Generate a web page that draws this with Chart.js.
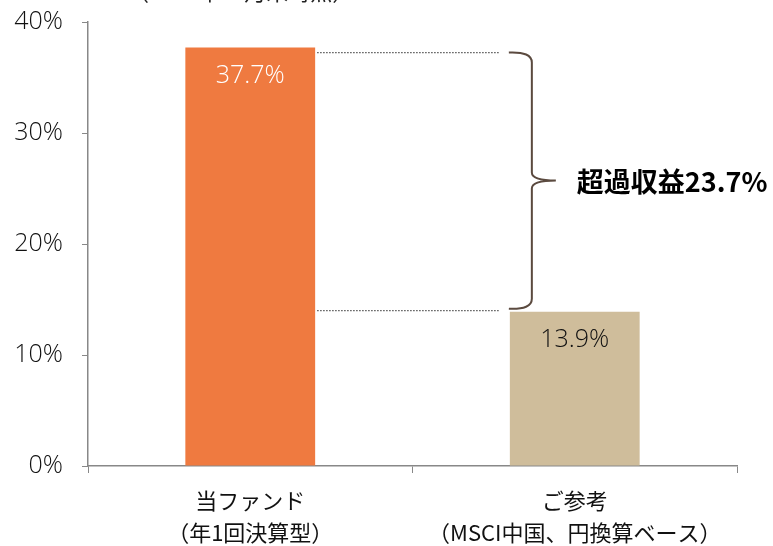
<!DOCTYPE html>
<html><head><meta charset="utf-8">
<script src="https://cdn.jsdelivr.net/npm/chart.js@4/dist/chart.umd.min.js"></script>
<style>html,body{margin:0;padding:0;background:#fff}#wrap{width:773px;height:546px}</style>
</head><body><div id="wrap"><canvas id="c" width="773" height="546"></canvas></div>
<script>
const categories = [["当ファンド","（年1回決算型）"],["ご参考","（MSCI中国、円換算ベース）"]];
const values = [37.7, 13.9];
const valueLabels = ["37.7%", "13.9%"];
const yTicks = [0, 10, 20, 30, 40];
const excessLabel = "超過収益23.7%";
const noteText = "（2019年11月末時点）";
const barColors = ["#EF7A40", "#CFBD9B"];
const labelColors = ["#ffffff", "#111111"];
const FONT = "'Open Sans','Noto Sans CJK JP',sans-serif";
const JFONT = "'Noto Sans CJK JP','Open Sans',sans-serif";

const annot = {
  id: 'annot',
  afterDatasetsDraw(chart) {
    const ctx = chart.ctx, y = chart.scales.y;
    const meta = chart.getDatasetMeta(0);
    ctx.save();
    ctx.font = "300 25px " + FONT;
    ctx.textAlign = "center"; ctx.textBaseline = "middle";
    meta.data.forEach((b, i) => {
      ctx.fillStyle = labelColors[i];
      ctx.fillText(valueLabels[i], b.x, b.y + 28);
    });
    const b0 = meta.data[0], b1 = meta.data[1];
    const yTop = y.getPixelForValue(values[0]) + 5;
    const yBot = y.getPixelForValue(values[1]) - 1;
    const x0 = b0.x + b0.width / 2 + 2;
    const xEnd = b1.x - b1.width / 2 - 10;
    ctx.strokeStyle = "#555"; ctx.lineWidth = 1.3; ctx.setLineDash([1.5, 1.5]);
    ctx.beginPath(); ctx.moveTo(x0, yTop); ctx.lineTo(xEnd, yTop); ctx.stroke();
    ctx.beginPath(); ctx.moveTo(x0, yBot); ctx.lineTo(xEnd, yBot); ctx.stroke();
    ctx.setLineDash([]);
    const bx = xEnd + 9, xs = bx + 23, top = yTop, bot = yBot - 2, mid = (top + bot) / 2;
    ctx.strokeStyle = "#5B4A3F"; ctx.lineWidth = 2;
    ctx.beginPath();
    ctx.moveTo(bx, top);
    ctx.quadraticCurveTo(xs, top - 1, xs, top + 10);
    ctx.lineTo(xs, mid - 8);
    ctx.quadraticCurveTo(xs, mid, xs + 24, mid);
    ctx.quadraticCurveTo(xs, mid, xs, mid + 8);
    ctx.lineTo(xs, bot - 10);
    ctx.quadraticCurveTo(xs, bot + 1, bx, bot);
    ctx.stroke();
    ctx.fillStyle = "#000";
    ctx.font = "bold 27px " + JFONT;
    ctx.textAlign = "left";
    ctx.fillText(excessLabel, xs + 45, mid + 1);
    ctx.font = "22px " + JFONT;
    ctx.fillStyle = "#222";
    ctx.textBaseline = "alphabetic";
    ctx.fillText(noteText, 127, 0);
    ctx.restore();
  }
};

new Chart(document.getElementById('c'), {
  type: 'bar',
  data: {
    labels: categories,
    datasets: [{ data: values, backgroundColor: barColors, borderWidth: 0,
      categoryPercentage: 1.0, barPercentage: 0.4 }]
  },
  options: {
    responsive: false, animation: false, events: [],
    layout: { padding: { top: 22, right: 36, left: 0, bottom: 0 } },
    plugins: { legend: { display: false }, tooltip: { enabled: false } },
    scales: {
      x: {
        grid: { drawOnChartArea: false, tickLength: 7, color: "#888", offset: true },
        border: { color: "#888", width: 1.5 },
        ticks: { color: "#111", font: { family: JFONT, size: 22, lineHeight: 1.45 }, padding: 12, maxRotation: 0 },
        afterFit(s) { s.height = 80; }
      },
      y: {
        min: 0, max: 40,
        afterBuildTicks(s) { s.ticks = yTicks.map(v => ({ value: v })); },
        grid: { drawOnChartArea: false, tickLength: 6, color: "#888" },
        border: { color: "#888", width: 1.5 },
        ticks: { color: "#111", font: { family: FONT, size: 25, weight: 300 }, padding: 19,
          callback: v => v + "%" },
        afterFit(s) { s.width = 88; s.paddingTop = 0; s.paddingBottom = 0; }
      }
    }
  },
  plugins: [annot]
});
</script></body></html>
